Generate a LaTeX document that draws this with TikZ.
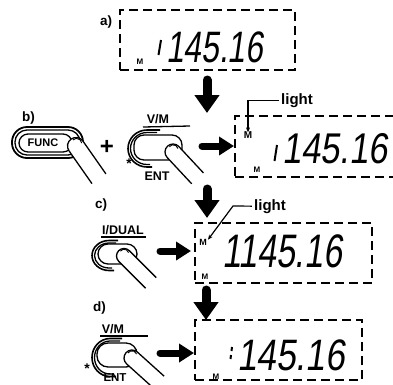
\documentclass[tikz,border=0pt]{standalone}
\usepackage{fontspec}
\setmainfont{Liberation Sans}
\newfontfamily\lcdn{Liberation Sans}[FakeStretch=0.72, FakeSlant=0.14]
\newfontfamily\lcdw{Liberation Sans}[FakeStretch=0.8, FakeSlant=0.14]
\usetikzlibrary{arrows.meta}
\begin{document}
\begin{tikzpicture}[x=1pt,y=-1pt,
  dbox/.style={draw, dash pattern=on 9pt off 5pt, line width=1.3pt, inner sep=0},
  lbl/.style={font=\bfseries\fontsize{13.5}{14}\selectfont, inner sep=0, anchor=base west},
  keylbl/.style={font=\bfseries\fontsize{12.5}{13}\selectfont, inner sep=0, anchor=base},
  mk/.style={font=\bfseries\fontsize{8}{8}\selectfont, inner sep=0},
  lcd/.style={inner sep=0, anchor=base west},
  lighttxt/.style={font=\bfseries\fontsize{15}{15}\selectfont, inner sep=0, anchor=base},
  leader/.style={line width=1.2pt, -{Stealth[length=5pt,width=4pt]}},
  downarrow/.style={line width=9pt, line cap=round, -{Triangle[length=18pt,width=24pt]}},
  rightarrow/.style={line width=7pt, line cap=round, -{Triangle[length=15pt,width=18pt]}},
  btn/.style={line width=1.3pt},
  seg/.style={line width=2pt},
  pics/finger/.style 2 args={code={
     \fill[white] (#2,-#1) -- (0,-#1) arc[start angle=-90,end angle=-270,radius=#1] -- (#2,#1) -- cycle;
     \draw[btn] (#2,-#1) -- (0,-#1) arc[start angle=-90,end angle=-270,radius=#1] -- (#2,#1);
     \draw[line width=0.9pt] (0.1*#1,-0.75*#1) arc[start angle=-60,end angle=-190,radius=0.6*#1];
  }}
]
\useasboundingbox (0,0) rectangle (393,384);

% ---------- dashed display boxes ----------
\node[dbox, minimum width=175pt, minimum height=60pt] (boxA) at (207.5,40) {};
\node[dbox, minimum width=175pt, minimum height=61pt] (boxB) at (322.5,146.5) {};
\node[dbox, minimum width=177pt, minimum height=60pt] (boxC) at (283.5,253) {};
\node[dbox, minimum width=167pt, minimum height=60pt] (boxD) at (278.5,350) {};

% ---------- step labels ----------
\node[lbl] (la) at (100,25) {a)};
\node[lbl] (lb) at (22,121) {b)};
\node[lbl] (lc) at (95,208) {c)};
\node[lbl] (ld) at (93,311) {d)};

% ---------- display readouts ----------
\node[lcd, font=\lcdn\fontsize{47}{47}\selectfont] (dispC) at (222,267) {1145.16};
\node[lcd, font=\lcdw\fontsize{43}{43}\selectfont] (dispB) at (282,163) {145.16};
\node[lcd, font=\lcdw\fontsize{44}{44}\selectfont] (dispD) at (237,370) {145.16};
\node[lcd, font=\lcdn\fontsize{44}{44}\selectfont] (dispA) at (166,62) {145.16};
\draw[seg] (161,40) -- (158.5,55);
\draw[seg] (277,145) -- (274.5,161);
\draw[seg] (232,347) -- (231.5,351);
\draw[seg] (231,355) -- (230.5,359);

% ---------- M indicators ----------
\node[mk] (mA) at (140,62) {M};
\node[mk, font=\bfseries\fontsize{10}{10}\selectfont] (mB) at (248,135) {M};
\node[mk] (mB2) at (257,170) {M};
\node[mk, font=\bfseries\fontsize{9}{9}\selectfont] (mC) at (203,242) {M};
\node[mk] (mC2) at (205,277) {M};
\node[mk] (mD) at (216,377) {M};

% ---------- light labels ----------
\node[lighttxt] (lightB) at (297,104) {light};
\draw[leader] ([xshift=-2pt]lightB.west) -| ([yshift=-1pt]mB.north);
\node[lighttxt] (lightC) at (270,210) {light};
\coordinate (kC) at (233,206);
\draw[leader] ([xshift=-2pt]lightC.west) -- (kC) -- ([xshift=1pt,yshift=-1pt]mC.north east);

% ---------- big arrows ----------
\coordinate (dA1) at (207,80);  \coordinate (dA2) at (207,113);
\coordinate (dB1) at (207,189); \coordinate (dB2) at (207,218);
\coordinate (dC1) at (206,290); \coordinate (dC2) at (206,320);
\draw[downarrow] (dA1) -- (dA2);
\draw[downarrow] (dB1) -- (dB2);
\draw[downarrow] (dC1) -- (dC2);
\coordinate (rB1) at (202,146); \coordinate (rB2) at (234,146);
\coordinate (rC1) at (160,251); \coordinate (rC2) at (191,251);
\coordinate (rD1) at (160,353); \coordinate (rD2) at (194,353);
\draw[rightarrow] (rB1) -- (rB2);
\draw[rightarrow] (rC1) -- (rC2);
\draw[rightarrow] (rD1) -- (rD2);

% ---------- FUNC key ----------
\draw[line width=1.8pt, rounded corners=15pt] (12,127) rectangle (83,158);
\draw[btn, rounded corners=12pt] (15,130) rectangle (80,155);
\draw[btn, rounded corners=9pt] (19,134) rectangle (72,152);
\node[font=\bfseries\fontsize{11}{11}\selectfont, inner sep=0] (func) at (43,143) {FUNC};
\pic[rotate=-55] at (76,146) {finger={8.5}{40}};
\node[font=\bfseries\fontsize{24}{24}\selectfont, inner sep=0] (plus) at (107,147) {+};

% ---------- V/M key (b) ----------
\node[keylbl] (vmB) at (158,123.5) {V/M};
\draw[btn] (143,127) -- (190,126);
\draw[line width=1.6pt] (160,130) -- (147,130) arc[start angle=-90,end angle=-270,x radius=19,y radius=18.5] -- (152,167);
\draw[btn] (157,132.5) -- (147,132.5) arc[start angle=-90,end angle=-270,x radius=16.5,y radius=16] -- (150,164.5);
\draw[btn, rounded corners=10pt] (134,135) rectangle (182,160);
\pic[rotate=-47] at (173,152) {finger={8}{36}};
\node[keylbl] (entB) at (157,180) {ENT};
\node[font=\bfseries\fontsize{14}{14}\selectfont, inner sep=0] (starB) at (129,164) {*};

% ---------- I/DUAL key (c) ----------
\node[keylbl] (dual) at (123,234) {I/DUAL};
\draw[btn] (101,237) -- (146,237);
\draw[line width=1.6pt] (118,240.5) -- (109,240.5) arc[start angle=-90,end angle=-270,x radius=17,y radius=15] -- (114,270.5);
\draw[btn] (116,243) -- (109,243) arc[start angle=-90,end angle=-270,x radius=14.5,y radius=12.5] -- (112,268);
\draw[btn, rounded corners=10pt] (98,244) rectangle (137,264);
\pic[rotate=-45] at (124,256) {finger={7.5}{38}};

% ---------- V/M key (d) ----------
\node[keylbl] (vmD) at (113,333) {V/M};
\draw[btn] (100,336) -- (148,336);
\draw[line width=1.6pt] (122,338.5) -- (110,338.5) arc[start angle=-90,end angle=-270,x radius=18,y radius=19] -- (116,376.5);
\draw[btn] (120,341) -- (110,341) arc[start angle=-90,end angle=-270,x radius=15.5,y radius=16.5] -- (114,374);
\draw[btn, rounded corners=11pt] (97,343) rectangle (137,367);
\pic[rotate=-42] at (132,358) {finger={8}{36}};
\node[keylbl, font=\bfseries\fontsize{11.5}{12}\selectfont] (entD) at (115,381.5) {ENT};
\node[font=\bfseries\fontsize{14}{14}\selectfont, inner sep=0] (starD) at (87,369) {*};
\end{tikzpicture}
\end{document}
